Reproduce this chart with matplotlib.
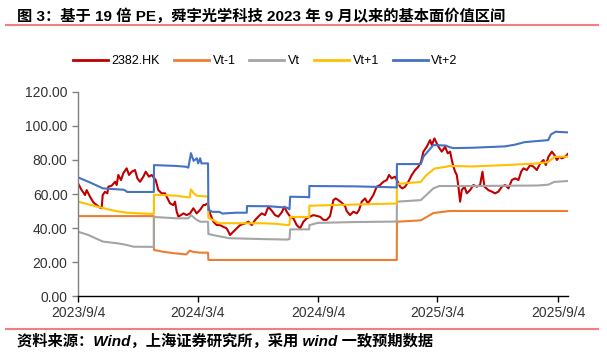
import datetime
import numpy as np
import matplotlib
matplotlib.use('Agg')
import matplotlib.pyplot as plt
import matplotlib.dates as mdates
from matplotlib.lines import Line2D

plt.rcParams['font.family'] = ['Liberation Sans', 'Noto Sans CJK SC', 'DejaVu Sans']

# 数据：距 2023/9/4 的天数 与 数值
start = datetime.datetime(2023, 9, 4)

price_day = [0, 5.6, 10.7, 13.2, 18.3, 23.4, 28.4, 33.5, 36, 37.6, 41.1, 44.7, 46.2, 51.3, 56.4,
             58.9, 61.4, 65.5, 69, 74.1, 77.7, 81.8, 86.8, 90.4, 94.4, 99.5, 103.1, 108.1, 112.2,
             116.2, 118.3, 122.3, 127.4, 132.5, 135, 137.5, 140.1, 145.1, 147.7, 150.3, 152.8,
             156.9, 160.4, 165.5, 170.6, 175.6, 180.7, 185.8, 190.9, 193.4, 197.5, 201, 206.1,
             211.2, 216.3, 221.3, 226.4, 231.5, 236.5, 241.6, 246.7, 254.3, 259.4, 264.5, 269.6,
             274.6, 279.7, 284.8, 289.9, 295, 300, 305.1, 310.2, 314.2, 317.8, 322.9, 327.9, 333,
             338.1, 343.2, 348.3, 353.3, 358.4, 368.6, 373.6, 378.7, 383.8, 388.8, 392.4, 396.4,
             401.5, 406.6, 409.1, 414.2, 419.3, 424.4, 427.9, 432, 437.1, 441.2, 444.7, 449.7,
             454.8, 459.9, 465, 470.1, 473.6, 477.6, 482.7, 486.8, 490.4, 493.9, 498, 503, 508.2,
             513.3, 518.3, 522.4, 525.9, 531, 536.1, 538.7, 542.6, 548.8, 553.9, 558.9, 563, 566.6,
             569.1, 571.6, 574.2, 576.7, 579.2, 581.8, 584.3, 588.4, 592, 597, 602.1, 607.2, 612.2,
             615.8, 618.8, 624.9, 630, 635.1, 640.1, 645.3, 650.3, 655.4, 660.5, 665.6, 670.6,
             674.7, 678.2, 683.3, 688.4, 693.4, 698.6, 703.6, 708.7, 712.3, 716.3, 721.4, 725.4,
             729.1, 732.6, 736.7, 741.7, 746.7]
price_val = [66.3, 62.3, 59.4, 62.3, 58.4, 55.1, 53.5, 52.0, 51.6, 59.4, 61.3, 60.4, 64.3, 64.9, 67.2,
             65.3, 71.2, 68.2, 72.2, 75.1, 71.2, 73.1, 74.1, 69.2, 67.2, 70.2, 73.1, 70.2, 71.2,
             69.2, 68.2, 62.3, 60.4, 60.4, 58.4, 56.5, 54.5, 53.5, 55.5, 49.6, 46.7,
             47.6, 48.6, 47.6, 48.6, 51.6, 48.6, 50.6, 53.5, 53.5, 54.5, 48.6, 43.7,
             41.7, 41.7, 40.7, 39.8, 35.9, 37.8, 39.8, 41.7, 42.7, 43.7, 41.7, 44.7,
             46.7, 48.6, 47.6, 52.5, 50.2, 47.6, 46.7, 49.2, 52.5, 49.6, 46.7, 45.7, 41.7,
             39.8, 43.7, 45.7, 46.7, 47.6, 46.6, 44.8, 44.8, 47.0, 56.4, 57.4, 56.4,
             54.9, 52.9, 50.0, 47.6, 49.6, 48.6, 50.6, 55.5, 57.4, 54.5, 56.4, 59.4,
             64.3, 65.3, 67.2, 68.2, 71.2, 69.2, 70.2, 67.2, 64.3, 63.3, 64.3, 67.2, 71.2,
             74.1, 76.1, 79.0, 84.9, 87.8, 91.7, 88.8, 92.7, 87.8, 84.9, 87.8, 83.9, 84.9,
             80.0, 76.1, 73.1, 71.2, 64.3, 55.5, 62.3, 64.3, 60.4, 62.3, 65.3, 64.3, 65.3,
             73.1, 64.3, 62.3, 61.4, 60.4, 61.4, 64.3, 65.3, 63.3, 68.2, 69.2, 68.2,
             73.1, 75.1, 74.1, 77.0, 76.1, 74.1, 78.0, 80.0, 77.0, 81.9, 84.9, 82.9,
             80.0, 81.9, 81.0, 81.9, 83.9]

vt_m1_day = [0, 115.5, 115.7, 130, 150, 165, 170, 175, 185, 198, 198.5, 485.3, 485.6, 522, 541, 566, 748]
vt_m1_val = [47, 47, 27.1, 26, 25, 24.5, 26.7, 26, 25.5, 25.5, 21.2, 21.2, 43.7, 44.5, 48.8, 50, 50]

vt_day = [0, 15, 38, 60, 72, 85, 115.5, 115.7, 150, 168, 172, 180, 186, 198, 198.5, 205, 230, 280,
          318, 322, 323, 352, 352.3, 365, 420, 485.3, 485.6, 522, 541, 550, 600, 700, 716, 725, 748]
vt_val = [37.8, 36, 32, 31, 30.2, 29, 28.9, 46.5, 45.7, 45.7, 47.6, 45, 43.7, 43.7, 36.5, 35.9, 34, 33.5,
          33.2, 33.5, 39.2, 39.2, 41.7, 43, 43.5, 43.8, 55.5, 56.4, 63.3, 64.7, 64.7, 65, 65.5, 67.1, 67.7]

vt_p1_day = [0, 25, 50, 60, 75, 100, 115.5, 115.7, 150, 165, 170, 172, 176, 181, 186, 198, 198.5, 205,
             215, 280, 300, 318, 322, 323, 352, 352.3, 420, 485.3, 485.6, 522, 530, 543, 560, 566,
             600, 650, 700, 716, 725, 748]
vt_p1_val = [55.5, 53, 50.6, 49.8, 49, 48.5, 48.3, 59.6, 59, 58.2, 58, 62.7, 60.5, 59, 58.8, 58.5, 46, 44.7,
             42.8, 42.8, 42.5, 41.8, 41.8, 46.5, 46.5, 53.1, 53.8, 54.4, 65.9, 67.1, 71, 75, 76, 76.5,
             76.2, 77, 78, 78.8, 81.8, 82]

vt_p2_day = [0, 20, 38, 70, 75, 115.5, 115.7, 150, 165, 168, 172, 176, 181, 183, 186, 188, 198, 198.5,
             205, 215, 220, 240, 257, 257.3, 290, 318, 322, 323, 350, 352, 352.3, 420, 485.3, 485.6,
             522, 526, 541, 560, 566, 572, 600, 650, 665, 680, 710, 716, 720, 727, 748]
vt_p2_val = [69.8, 66.5, 63.3, 62.5, 61.2, 61.2, 77, 76.5, 76, 75.5, 84, 79.5, 81, 78, 81, 78, 78, 50.6,
             49.5, 49.5, 48.5, 49, 49, 52.9, 52.8, 52, 51, 58.4, 58.2, 58, 64.7, 64.5, 63.9, 77.6,
             77.6, 82, 88.8, 88.5, 87.5, 87, 87.2, 88, 89, 90.5, 91.5, 91.7, 95, 96.6, 96.2]

labels = ['2382.HK', 'Vt-1', 'Vt', 'Vt+1', 'Vt+2']
colors = ['#C00000', '#ED7D31', '#A5A5A5', '#FFC000', '#4472C4']
series = [(price_day, price_val), (vt_m1_day, vt_m1_val), (vt_day, vt_val),
          (vt_p1_day, vt_p1_val), (vt_p2_day, vt_p2_val)]

base = mdates.date2num(start)

fig = plt.figure(figsize=(6.07, 3.56), dpi=100)
ax = fig.add_axes([0.1285, 0.1685, 0.8072, 0.5731])

for (d, v), c, lab in zip(series, colors, labels):
    ax.plot(base + np.array(d), v, color=c, lw=1.5, label=lab)

ax.set_ylim(0, 120)
ax.set_yticks(np.arange(0, 121, 20))
ax.set_yticklabels([f'{t:.2f}' for t in np.arange(0, 121, 20)])
ax.set_xlim(base, base + 746)
tick_dates = [datetime.datetime(2023, 9, 4), datetime.datetime(2024, 3, 4), datetime.datetime(2024, 9, 4),
              datetime.datetime(2025, 3, 4), datetime.datetime(2025, 9, 4)]
ax.set_xticks(mdates.date2num(tick_dates))
ax.set_xticklabels([f'{t.year}/{t.month}/{t.day}' for t in tick_dates])

for s in ['top', 'right']:
    ax.spines[s].set_visible(False)
ax.spines['left'].set_color('#808080')
ax.spines['left'].set_linewidth(1.0)
ax.spines['bottom'].set_color('black')
ax.spines['bottom'].set_linewidth(1.0)
ax.tick_params(axis='y', colors='#808080', labelcolor='#333333', labelsize=10, length=4, width=1.0)
ax.tick_params(axis='x', colors='black', labelcolor='#333333', labelsize=10, length=4, width=1.0)

handles = [Line2D([], [], color=c, lw=2) for c in colors]
fig.legend(handles, labels, loc='center', bbox_to_anchor=(0.437, 0.828), ncol=5, frameon=False,
           fontsize=9, handlelength=2.8, columnspacing=1.1, handletextpad=0.3)

fig.text(0.028, 0.955, '图 3：基于 19 倍 PE，舜宇光学科技 2023 年 9 月以来的基本面价值区间',
         fontsize=11, fontweight='bold', va='center', ha='left')
fig.add_artist(Line2D([0.01, 0.985], [0.93, 0.93], color='#F08080', lw=1.5))
fig.add_artist(Line2D([0.01, 0.985], [0.076, 0.076], color='#F08080', lw=1.5))
fig.text(0.028, 0.04, '资料来源：Wind，上海证券研究所，采用 wind 一致预期数据',
         fontsize=11, fontweight='bold', fontstyle='italic', va='center', ha='left')

fig.savefig('out.png', dpi=100)
